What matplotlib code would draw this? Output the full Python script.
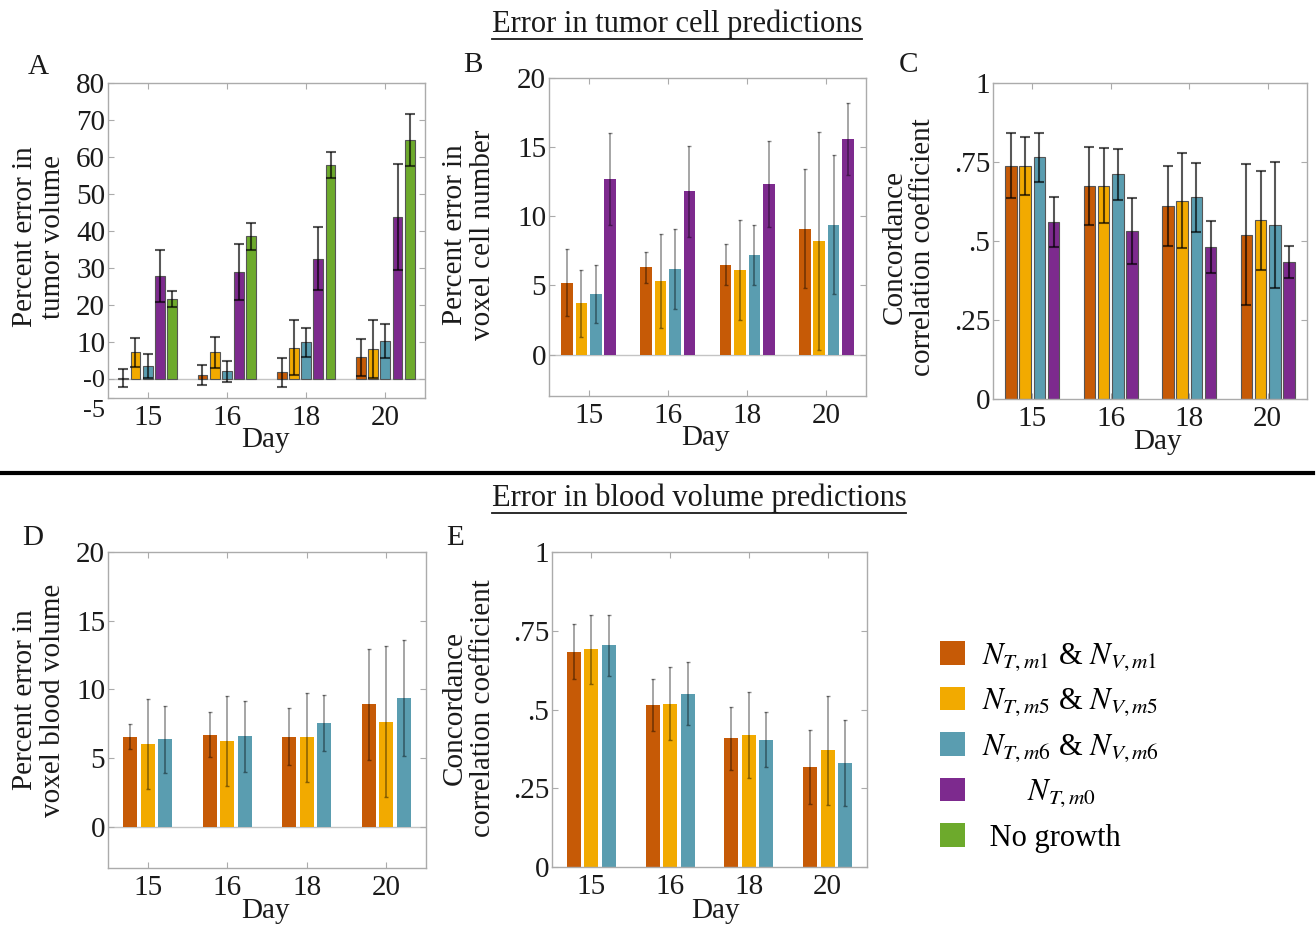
import numpy as np
import matplotlib
matplotlib.use("Agg")
import matplotlib.pyplot as plt
from matplotlib.lines import Line2D
from matplotlib.transforms import ScaledTranslation

plt.rcParams['font.family'] = ['Liberation Serif', 'DejaVu Serif']
plt.rcParams['mathtext.fontset'] = 'stix'

W, H = 1316, 927

# ---------------- data ----------------
days = ['15', '16', '18', '20']

labels = [r'$N_{T,m1}$ & $N_{V,m1}$',
          r'$N_{T,m5}$ & $N_{V,m5}$',
          r'$N_{T,m6}$ & $N_{V,m6}$',
          r'      $N_{T,m0}$',
          ' No growth']
colors = ['#C65A06', '#F2AA00', '#5A9DB0', '#7D2A8E', '#6DAA2C']

# A : percent error in tumor volume
a_m1 = [0.4, 1.2, 2.0, 6.0]
a_m1_err = [2.3, 2.6, 3.9, 5.0]
a_m5 = [7.3, 7.3, 8.6, 8.2]
a_m5_err = [3.8, 4.2, 7.5, 7.8]
a_m6 = [3.6, 2.2, 10.0, 10.3]
a_m6_err = [3.3, 2.8, 3.9, 4.6]
a_m0 = [28.0, 29.0, 32.6, 43.9]
a_m0_err = [7.0, 7.6, 8.5, 14.3]
a_ng = [21.8, 38.6, 58.0, 64.7]
a_ng_err = [2.2, 3.6, 3.5, 7.0]

# B : percent error in voxel cell number
b_m1 = [5.2, 6.3, 6.5, 9.1]
b_m1_err = [2.4, 1.15, 1.5, 4.3]
b_m5 = [3.7, 5.3, 6.1, 8.2]
b_m5_err = [2.4, 3.4, 3.6, 7.9]
b_m6 = [4.4, 6.2, 7.2, 9.4]
b_m6_err = [2.1, 2.9, 2.2, 5.0]
b_m0 = [12.7, 11.8, 12.35, 15.6]
b_m0_err = [3.3, 3.3, 3.1, 2.6]

# C : concordance correlation coefficient (tumor cells)
c_m1 = [0.738, 0.675, 0.611, 0.52]
c_m1_err = [0.103, 0.123, 0.127, 0.224]
c_m5 = [0.738, 0.675, 0.627, 0.566]
c_m5_err = [0.092, 0.118, 0.15, 0.157]
c_m6 = [0.765, 0.711, 0.638, 0.551]
c_m6_err = [0.078, 0.08, 0.108, 0.2]
c_m0 = [0.56, 0.531, 0.482, 0.434]
c_m0_err = [0.08, 0.104, 0.082, 0.05]

# D : percent error in voxel blood volume
d_m1 = [6.56, 6.7, 6.56, 8.92]
d_m1_err = [0.9, 1.63, 2.07, 4.04]
d_m5 = [6.03, 6.27, 6.5, 7.65]
d_m5_err = [3.3, 3.28, 3.25, 5.5]
d_m6 = [6.37, 6.6, 7.53, 9.36]
d_m6_err = [2.43, 2.58, 2.03, 4.2]

# E : concordance correlation coefficient (blood volume)
e_m1 = [0.684, 0.515, 0.408, 0.317]
e_m1_err = [0.088, 0.082, 0.1, 0.117]
e_m5 = [0.691, 0.519, 0.419, 0.371]
e_m5_err = [0.11, 0.117, 0.137, 0.173]
e_m6 = [0.704, 0.55, 0.404, 0.331]
e_m6_err = [0.097, 0.1, 0.087, 0.136]

FS = 21  # text size used for ticks / labels


def fx(x):
    return x / W


def fy(y):
    return 1 - y / H


def box(l, t, r, b):
    return [fx(l), fy(b), (r - l) / W, (b - t) / H]


# grouped bars like matlab's bar()
def panel(ax, series, errs, ylim, yticks, yticklabels, heavy, zero_line):
    n = len(series)
    x = np.arange(1, len(days) + 1)
    gw = min(0.8, n / (n + 1.5))
    step = gw / n
    conts = []
    for i in range(n):
        xi = x - gw / 2 + step * (i + 0.5)
        if heavy:
            c = ax.bar(xi, series[i], width=step * 0.8, color=colors[i],
                       edgecolor='#555555', linewidth=0.8, zorder=2)
            ax.errorbar(xi, series[i], yerr=errs[i], fmt='none', ecolor='black',
                        alpha=0.65, elinewidth=1.5, capsize=3.5, capthick=1.5, zorder=3)
        else:
            c = ax.bar(xi, series[i], width=step * 0.8, color=colors[i],
                       edgecolor='none', zorder=2)
            ax.errorbar(xi, series[i], yerr=errs[i], fmt='none', ecolor='black',
                        alpha=0.45, elinewidth=1.1, capsize=1.5, capthick=1.0, zorder=3)
        conts.append(c)
    if zero_line:
        ax.axhline(0, color='#c4c4c4', lw=1.0, zorder=1)
    ax.set_xlim(0.5, len(days) + 0.5)
    ax.set_ylim(*ylim)
    ax.set_xticks(x)
    ax.set_xticklabels(days)
    ax.set_yticks(yticks)
    ax.set_yticklabels(yticklabels)
    for s in ax.spines.values():
        s.set_color('#ababab')
        s.set_linewidth(1.0)
    ax.tick_params(direction='in', length=4, color='#ababab', labelsize=FS,
                   top=True, right=True, labelcolor='#1a1a1a')
    ax.tick_params(axis='x', pad=5)
    ax.tick_params(axis='y', pad=2)
    return conts


fig = plt.figure(figsize=(W / 100, H / 100), dpi=100)

axA = fig.add_axes(box(108, 83, 425, 398))
axB = fig.add_axes(box(549, 78, 866, 396))
axC = fig.add_axes(box(993, 83, 1307, 399))
axD = fig.add_axes(box(108, 552, 426, 868))
axE = fig.add_axes(box(552, 552, 867, 867))

handles = panel(axA, [a_m1, a_m5, a_m6, a_m0, a_ng],
                [a_m1_err, a_m5_err, a_m6_err, a_m0_err, a_ng_err],
                (-5, 80), [-5, 0, 10, 20, 30, 40, 50, 60, 70, 80],
                ['-5', '-0', '10', '20', '30', '40', '50', '60', '70', '80'], True, True)
panel(axB, [b_m1, b_m5, b_m6, b_m0], [b_m1_err, b_m5_err, b_m6_err, b_m0_err],
      (-3, 20), [0, 5, 10, 15, 20], ['0', '5', '10', '15', '20'], False, True)
panel(axC, [c_m1, c_m5, c_m6, c_m0], [c_m1_err, c_m5_err, c_m6_err, c_m0_err],
      (0, 1), [0, 0.25, 0.5, 0.75, 1], ['0', '.25', '.5', '.75', '1'], True, False)
panel(axD, [d_m1, d_m5, d_m6], [d_m1_err, d_m5_err, d_m6_err],
      (-3, 20), [0, 5, 10, 15, 20], ['0', '5', '10', '15', '20'], False, True)
panel(axE, [e_m1, e_m5, e_m6], [e_m1_err, e_m5_err, e_m6_err],
      (0, 1), [0, 0.25, 0.5, 0.75, 1], ['0', '.25', '.5', '.75', '1'], False, False)

# push the "-5" / "-0" labels of panel A apart a little (they crowd each other)
ylbls = axA.get_yticklabels()
ylbls[0].set_fontsize(19)
ylbls[1].set_fontsize(19)
ylbls[0].set_transform(ylbls[0].get_transform() + ScaledTranslation(0, -10 / 100, fig.dpi_scale_trans))
ylbls[1].set_transform(ylbls[1].get_transform() + ScaledTranslation(0, 1 / 100, fig.dpi_scale_trans))

# y labels (two lines, rotated)
ylabs = [("Percent error in\ntumor volume", 39, 237),
         ("Percent error in\nvoxel cell number", 469, 235),
         ("Concordance\ncorrelation coefficient", 909, 247),
         ("Percent error in\nvoxel blood volume", 39, 700),
         ("Concordance\ncorrelation coefficient", 469, 708)]
for txt, x, y in ylabs:
    fig.text(fx(x), fy(y), txt, rotation=90, ha='center', va='center',
             fontsize=FS, linespacing=1.1, color='#1a1a1a')

# x labels
for x, y in [(265, 440), (706, 438), (1157, 442), (265, 911), (716, 911)]:
    fig.text(fx(x), fy(y), 'Day', ha='center', va='center', fontsize=FS, color='#1a1a1a')

# panel letters
for let, x, y in [('A', 38, 67), ('B', 473, 65), ('C', 908, 65), ('D', 33, 538), ('E', 455, 538)]:
    fig.text(fx(x), fy(y), let, ha='center', va='center', fontsize=FS, color='#1a1a1a')

# section titles, underlined
t1 = fig.text(fx(677), fy(32), 'Error in tumor cell predictions', ha='center',
              va='baseline', fontsize=22, color='#1a1a1a')
t2 = fig.text(fx(699), fy(506), 'Error in blood volume predictions', ha='center',
              va='baseline', fontsize=22, color='#1a1a1a')
fig.canvas.draw()
rend = fig.canvas.get_renderer()
for t, yu in [(t1, 39), (t2, 513)]:
    bb = t.get_window_extent(renderer=rend)
    fig.add_artist(Line2D([bb.x0 / W, bb.x1 / W], [fy(yu), fy(yu)],
                          transform=fig.transFigure, color='#1a1a1a', lw=1.3))

# separator line
fig.add_artist(Line2D([0, 1313 / W], [fy(473), fy(473)], transform=fig.transFigure,
                      color='black', lw=3))

leg = fig.legend([h for h in handles], labels, loc='upper left',
                 bbox_to_anchor=(fx(925), fy(626)), frameon=False, fontsize=22,
                 handlelength=0.8, handleheight=0.8, handletextpad=0.55,
                 labelspacing=0.45, borderpad=0)
for p in leg.get_patches():
    p.set_edgecolor('none')

fig.savefig('out.png', dpi=100)
